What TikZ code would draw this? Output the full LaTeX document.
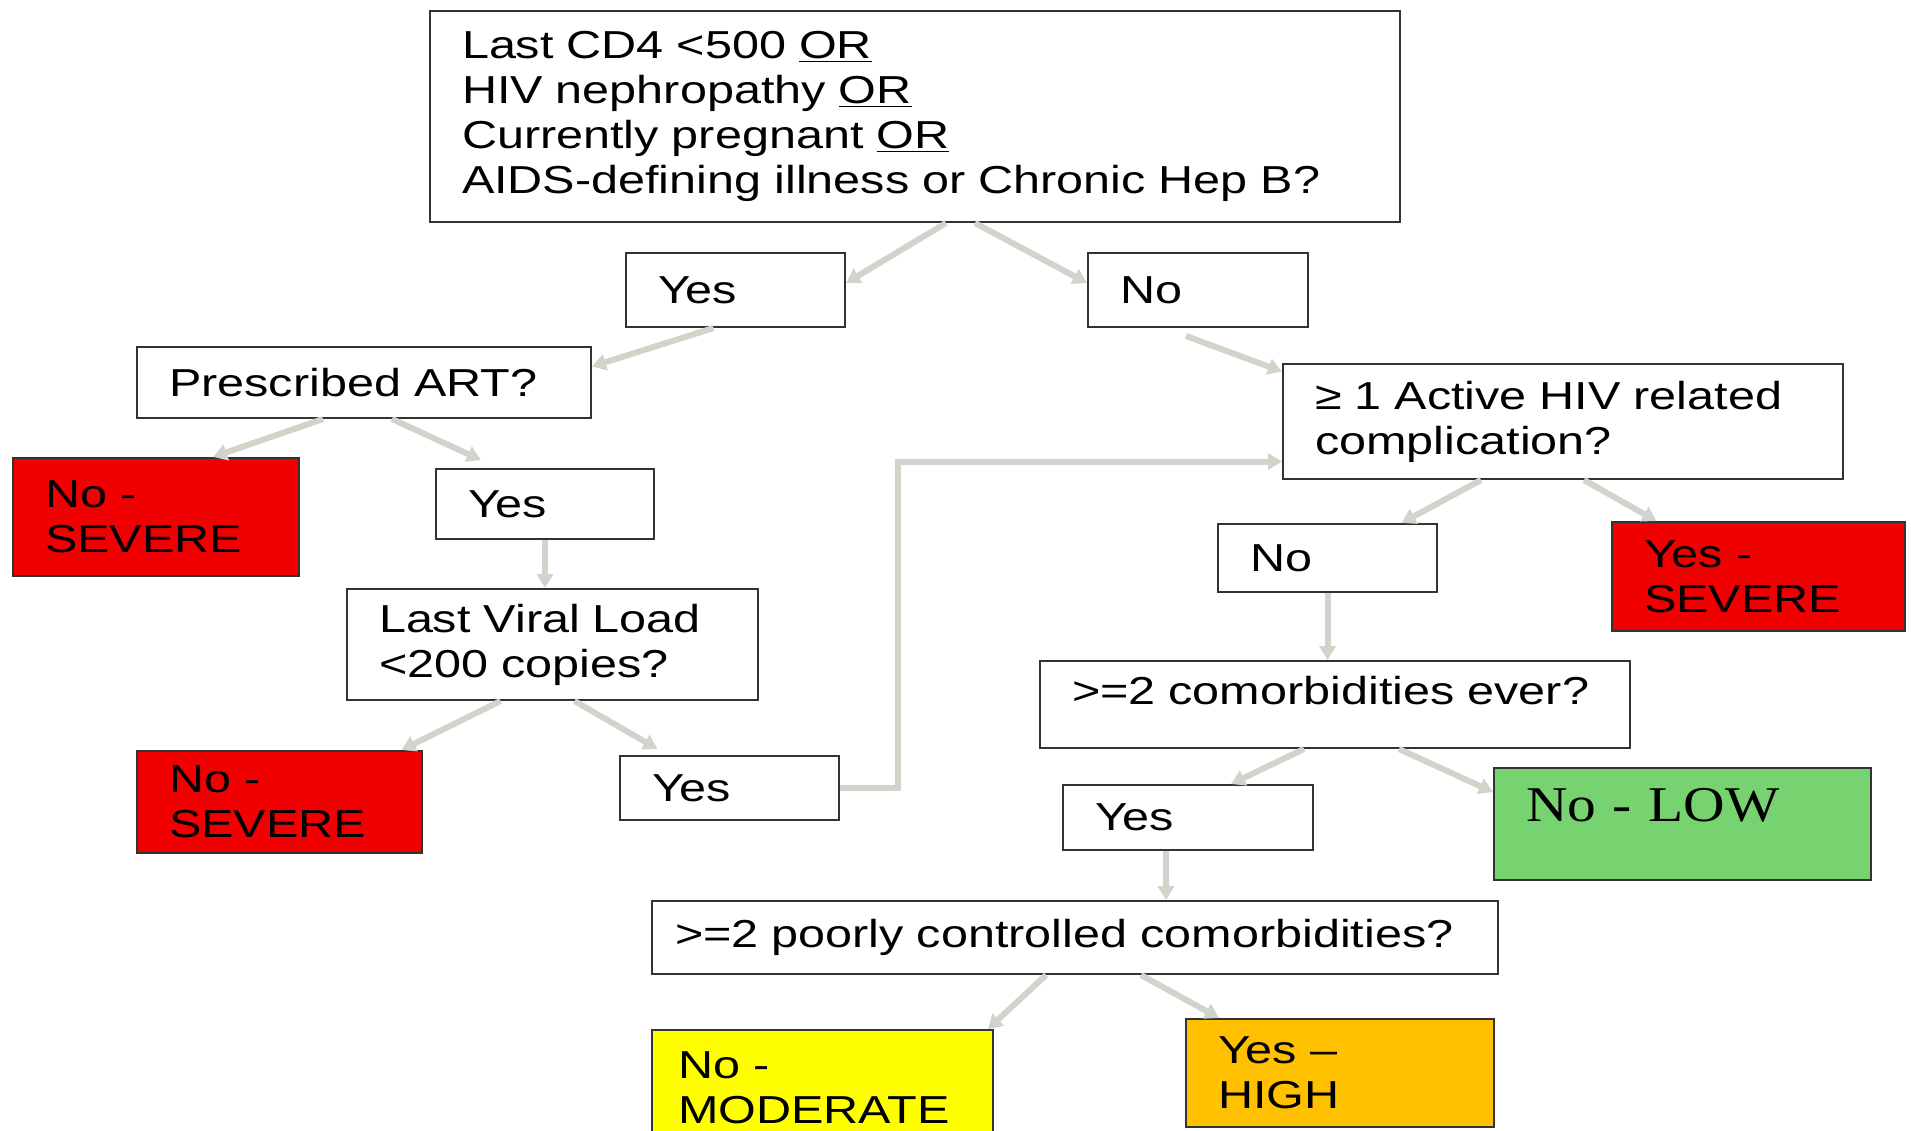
\documentclass[tikz,border=0pt]{standalone}
\usepackage{fontspec}
\setmainfont[FakeStretch=1.245]{Liberation Sans}
\newfontfamily\lowfont[FakeStretch=1.15]{Liberation Serif}
\usetikzlibrary{arrows.meta}
\definecolor{sevred}{RGB}{240,0,0}
\definecolor{lowgreen}{RGB}{119,211,111}
\definecolor{modyellow}{RGB}{255,255,0}
\definecolor{highorange}{RGB}{255,192,0}
\definecolor{linkgray}{RGB}{208,212,202}

\begin{document}
\begin{tikzpicture}[x=0.5pt,y=-0.5pt,
  box/.style={draw=black!80,line width=1pt,fill=white,align=left,inner xsep=16pt,inner ysep=2pt,
    font=\fontsize{19.5}{22.5}\selectfont},
  link/.style={draw=linkgray,line width=3pt,-{Triangle[length=7pt,width=8pt]}}]
\fill[white] (0,0) rectangle (1911,1130);
\useasboundingbox (0,0) rectangle (1911,1130);

\node[box,text width=453pt,minimum height=105.5pt] (top) at (915,116.5)
  {Last CD4 <500 \underline{OR}\\HIV nephropathy \underline{OR}\\Currently pregnant \underline{OR}\\AIDS-defining illness or Chronic Hep B?};
\node[box,text width=77.5pt,minimum height=37pt] (yes1) at (735.5,290) {Yes};
\node[box,text width=78pt,minimum height=37pt] (no1) at (1198,290) {No};
\node[box,text width=195pt,minimum height=35.5pt] (art) at (364,382.5) {Prescribed ART?};
\node[box,text width=248pt,minimum height=57.5pt] (act) at (1563,421.5) {≥ 1 Active HIV related\\complication?};
\node[box,fill=sevred,text width=111pt,minimum height=59pt] (sev1) at (156,517) {No -\\SEVERE};
\node[box,text width=77pt,minimum height=35pt] (yes2) at (545,504) {Yes};
\node[box,text width=77.5pt,minimum height=34pt] (no2) at (1327.5,558) {No};
\node[box,fill=sevred,text width=114.5pt,minimum height=54.5pt] (sev3) at (1758.5,576.5) {Yes -\\SEVERE};
\node[box,text width=173.5pt,minimum height=55.5pt] (vl) at (552.5,644.5) {Last Viral Load\\<200 copies?};
\node[box,text width=263pt,minimum height=43.5pt,text depth=14pt] (com) at (1335,704.5) {>=2 comorbidities ever?};
\node[box,fill=sevred,text width=110.5pt,minimum height=51pt] (sev2) at (279.5,802) {No -\\SEVERE};
\node[box,text width=77.5pt,minimum height=32pt] (yes3) at (729.5,788) {Yes};
\node[box,text width=93pt,minimum height=32.5pt] (yes4) at (1188,817.5) {Yes};
\node[box,fill=lowgreen,text width=156.5pt,minimum height=56pt,text depth=19pt,font=\lowfont\fontsize{25}{28}\selectfont] (low) at (1682.5,824) {No - LOW};
\node[box,inner xsep=11.5pt,text width=400pt,minimum height=36.5pt] (poor) at (1075,937.5) {>=2 poorly controlled comorbidities?};
\node[box,fill=modyellow,inner xsep=13pt,text width=144.5pt,minimum height=57.5pt] (mod) at (822.5,1087.5) {No -\\MODERATE};
\node[box,fill=highorange,text width=122pt,minimum height=54pt] (high) at (1340,1073) {Yes --\\HIGH};

\draw[link] ([xshift=15.5pt]top.south) -- ([yshift=3.5pt]yes1.east);
\draw[link] ([xshift=30pt]top.south) -- ([yshift=3.5pt]no1.west);
\draw[link] ([xshift=-11pt]yes1.south) -- ([yshift=8pt]art.east);
\draw[link] ([xshift=-6pt,yshift=-4pt]no1.south) -- ([yshift=25pt]act.west);
\draw[link] ([xshift=-20.5pt]art.south) -- ([xshift=28.5pt]sev1.north);
\draw[link] ([xshift=14pt]art.south) -- ([xshift=-32pt,yshift=4pt]yes2.north);
\draw[link] (yes2.south) -- (yes2.south |- vl.north);
\draw[link] ([xshift=-26pt]vl.south) -- ([xshift=61pt]sev2.north);
\draw[link] ([xshift=11pt]vl.south) -- ([xshift=-36pt,yshift=3pt]yes3.north);
\draw[link] (yes3.east) -- ++(29pt,0) |- ([yshift=-20pt]act.west);
\draw[link] ([xshift=-41pt]act.south) -- ([xshift=37pt]no2.north);
\draw[link] ([xshift=10.5pt]act.south) -- ([xshift=-51pt]sev3.north);
\draw[link] (no2.south) -- (no2.south |- com.north);
\draw[link] ([xshift=-15.5pt]com.south) -- ([xshift=21.5pt]yes4.north);
\draw[link] ([xshift=32pt]com.south) -- ([yshift=16pt]low.west);
\draw[link] ([xshift=-11pt]yes4.south) -- ([xshift=-11pt]yes4.south |- poor.north);
\draw[link] ([xshift=-14.5pt]poor.south) -- ([xshift=-3pt]mod.north east);
\draw[link] ([xshift=33pt]poor.south) -- ([xshift=-60.5pt]high.north);
\end{tikzpicture}
\end{document}
